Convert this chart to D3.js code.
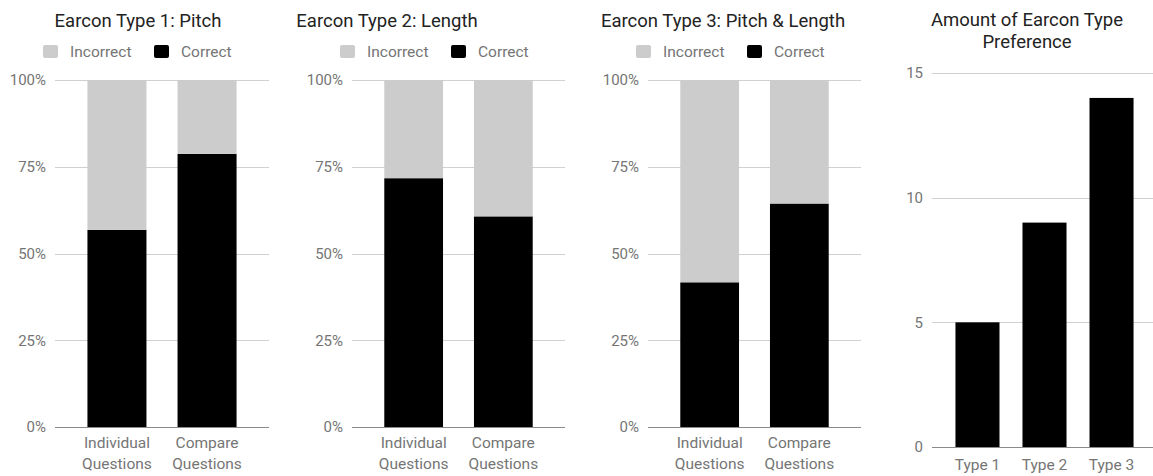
<!DOCTYPE html>
<html>
<head>
<meta charset="utf-8">
<script src="https://cdn.jsdelivr.net/npm/d3@7"></script>
<style>
  html, body { margin: 0; padding: 0; background: #fff; }
  svg { display: block; font-family: Roboto, "Noto Sans", sans-serif; }
</style>
</head>
<body>
<svg id="chart" width="1153" height="476"></svg>
<script>
// Answer accuracy per earcon type (percent of answers)
const questionCategories = ["Individual Questions", "Compare Questions"];
const pitchCorrect = [56.8, 78.7];
const pitchIncorrect = [43.2, 21.3];
const lengthCorrect = [71.7, 60.7];
const lengthIncorrect = [28.3, 39.3];
const pitchLengthCorrect = [41.7, 64.4];
const pitchLengthIncorrect = [58.3, 35.6];
const seriesNames = ["Incorrect", "Correct"];
const percentTicks = [0, 25, 50, 75, 100];

// Number of participants preferring each earcon type
const typeCategories = ["Type 1", "Type 2", "Type 3"];
const preferenceCounts = [5, 9, 14];
const countTicks = [0, 5, 10, 15];

const COLORS = { Incorrect: "#cccccc", Correct: "#000000" };
const GRID = "#d0d0d0", BASE = "#8a8a8a", LABEL = "#757575", TITLE = "#222222";
const TITLE_SIZE = 18.5, LEGEND_SIZE = 15.5, TICK_SIZE = 15, CAT_SIZE = 15.5;

const svg = d3.select("#chart");

function yAxisGrid(g, y, x0, x1, ticks, fmt) {
  g.selectAll("line.grid").data(ticks).join("line")
    .attr("x1", x0).attr("x2", x1)
    .attr("y1", d => Math.round(y(d)) + 0.5).attr("y2", d => Math.round(y(d)) + 0.5)
    .attr("stroke", d => d === 0 ? BASE : GRID).attr("stroke-width", 1);
  g.selectAll("text.tick").data(ticks).join("text")
    .attr("class", "tick")
    .attr("x", x0 - 9).attr("y", d => y(d)).attr("dy", "0.35em")
    .attr("text-anchor", "end").attr("fill", LABEL).attr("font-size", TICK_SIZE)
    .text(fmt);
}

function xLabels(g, x, cats, yTop) {
  cats.forEach(c => {
    const words = c.split(" ");
    const t = g.append("text").attr("text-anchor", "middle")
      .attr("fill", LABEL).attr("font-size", CAT_SIZE);
    words.forEach((w, i) => {
      t.append("tspan").attr("x", x(c) + x.bandwidth() / 2)
        .attr("y", yTop + i * 21).text(w);
    });
  });
}

function stackedChart(opts) {
  const g = svg.append("g");
  const y = d3.scaleLinear().domain([0, 100]).range([427, 80]);
  const x = d3.scaleBand().domain(questionCategories)
    .range([opts.left, opts.right]).paddingInner(0.345).paddingOuter(0.36);

  // title
  g.append("text").attr("x", opts.titleX).attr("y", 27)
    .attr("text-anchor", "middle").attr("fill", TITLE).attr("font-size", TITLE_SIZE)
    .text(opts.title);

  // legend
  const lg = g.append("g").attr("transform", `translate(${opts.left - 12},45)`);
  const offsets = [0, 111];
  seriesNames.forEach((s, i) => {
    lg.append("rect").attr("x", offsets[i]).attr("y", 0).attr("width", 15).attr("height", 13)
      .attr("rx", 2).attr("fill", COLORS[s]);
    lg.append("text").attr("x", offsets[i] + 27).attr("y", 12)
      .attr("fill", LABEL).attr("font-size", LEGEND_SIZE).text(s);
  });

  yAxisGrid(g, y, opts.left, opts.right, percentTicks, d => d + "%");

  const rows = questionCategories.map((c, i) => ({
    cat: c, Correct: opts.correct[i], Incorrect: opts.incorrect[i]
  }));
  const stack = d3.stack().keys(["Correct", "Incorrect"])(rows);
  stack.forEach(layer => {
    g.selectAll(null).data(layer).join("rect")
      .attr("x", d => x(d.data.cat)).attr("width", x.bandwidth())
      .attr("y", d => y(d[1])).attr("height", d => y(d[0]) - y(d[1]))
      .attr("fill", COLORS[layer.key]);
  });
  // baseline over bars
  g.append("line").attr("x1", opts.left).attr("x2", opts.right)
    .attr("y1", Math.round(y(0)) + 0.5).attr("y2", Math.round(y(0)) + 0.5)
    .attr("stroke", BASE);

  xLabels(g, x, questionCategories, 448);
}

stackedChart({ title: "Earcon Type 1: Pitch", titleX: 138, left: 55, right: 269,
  correct: pitchCorrect, incorrect: pitchIncorrect });
stackedChart({ title: "Earcon Type 2: Length", titleX: 387, left: 352, right: 565,
  correct: lengthCorrect, incorrect: lengthIncorrect });
stackedChart({ title: "Earcon Type 3: Pitch & Length", titleX: 723, left: 648, right: 861,
  correct: pitchLengthCorrect, incorrect: pitchLengthIncorrect });

// preference count chart
(function () {
  const g = svg.append("g");
  const left = 932, right = 1157;
  const y = d3.scaleLinear().domain([0, 15]).range([447, 73]);
  const x = d3.scaleBand().domain(typeCategories)
    .range([left, right]).paddingInner(0.343).paddingOuter(0.35);

  const title = g.append("text").attr("text-anchor", "middle")
    .attr("fill", TITLE).attr("font-size", TITLE_SIZE);
  ["Amount of Earcon Type", "Preference"].forEach((line, i) => {
    title.append("tspan").attr("x", 1027).attr("y", 26 + i * 22).text(line);
  });

  yAxisGrid(g, y, left, right, countTicks, d => d);

  g.selectAll(null).data(typeCategories).join("rect")
    .attr("x", d => x(d)).attr("width", x.bandwidth())
    .attr("y", (d, i) => y(preferenceCounts[i]))
    .attr("height", (d, i) => y(0) - y(preferenceCounts[i]))
    .attr("fill", "#000");
  g.append("line").attr("x1", left).attr("x2", right)
    .attr("y1", Math.round(y(0)) + 0.5).attr("y2", Math.round(y(0)) + 0.5)
    .attr("stroke", BASE);

  typeCategories.forEach(c => {
    g.append("text").attr("x", x(c) + x.bandwidth() / 2).attr("y", 470)
      .attr("text-anchor", "middle").attr("fill", LABEL).attr("font-size", CAT_SIZE).text(c);
  });
})();
</script>
</body>
</html>
